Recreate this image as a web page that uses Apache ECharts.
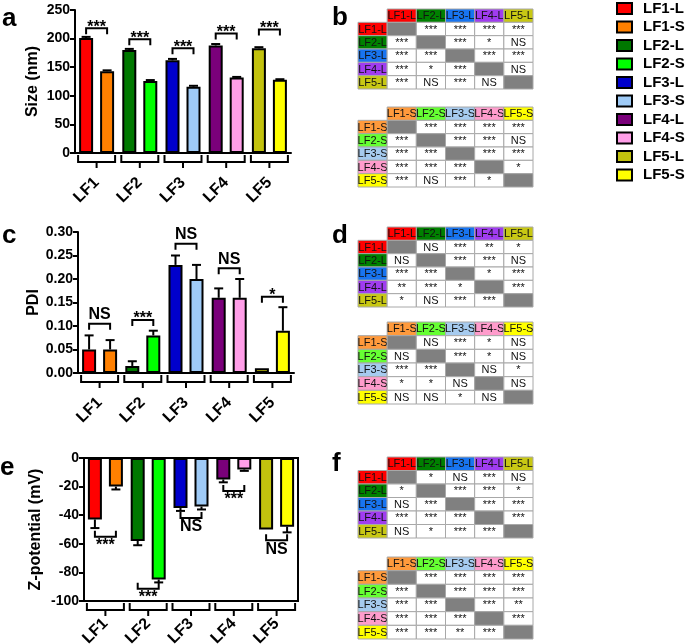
<!DOCTYPE html>
<html><head><meta charset="utf-8">
<script src="https://cdn.jsdelivr.net/npm/echarts@6/dist/echarts.min.js"></script>
<style>html,body{margin:0;padding:0;background:#fff}#c{width:685px;height:644px}</style>
</head><body><div id="c"></div>
<script>
// ---------- data ----------
const groups = ['LF1','LF2','LF3','LF4','LF5'];
const namesL = ['LF1-L','LF2-L','LF3-L','LF4-L','LF5-L'];
const namesS = ['LF1-S','LF2-S','LF3-S','LF4-S','LF5-S'];
const colorsL = ['#ff0000','#007800','#0000cc','#7a007a','#c2c20e'];
const colorsS = ['#ff8000','#00ff00','#9fcbf7','#ff9ee8','#ffff00'];
const tableColorsL = ['#ff0000','#008000','#1874f0','#a03cf0','#c8c814'];
const tableColorsS = ['#ff9a3c','#66ff33','#a6cbef','#ff9ccc','#ffff00'];

// panel a: size (nm)
const sizeL = [201,180,162,188,183];
const sizeLErr = [2,2,2.5,2.5,2];
const sizeS = [143,126,116,132,128];
const sizeSErr = [1.5,1.5,1.5,1,1];
const sizeSig = ['***','***','***','***','***'];
const sizeSigY = [218,199,183,209,216];

// panel c: PDI
const pdiL = [0.05,0.015,0.23,0.16,0.01];
const pdiLErr = [0.03,0.01,0.02,0.02,0];
const pdiS = [0.05,0.08,0.20,0.16,0.09];
const pdiSErr = [0.02,0.01,0.03,0.04,0.05];
const pdiSig = ['NS','***','NS','NS','*'];
const pdiSigY = [0.105,0.113,0.275,0.223,0.162];

// panel e: Z-potential (mV)
const zetaL = [-43,-58,-35,-15,-50];
const zetaLErr = [6,3,2,2,0];
const zetaS = [-20,-85,-34,-8,-48];
const zetaSErr = [2,2,2,1,4];
const zetaSig = ['***','***','NS','***','NS'];
const zetaSigY = [-55,-91.5,-42,-23,-57.5];

// significance tables
const tableB_L = [
 ['','***','***','***','***'],
 ['***','','***','*','NS'],
 ['***','***','','***','***'],
 ['***','*','***','','NS'],
 ['***','NS','***','NS','']
];
const tableB_S = [
 ['','***','***','***','***'],
 ['***','','***','***','NS'],
 ['***','***','','***','***'],
 ['***','***','***','','*'],
 ['***','NS','***','*','']
];
const tableD_L = [
 ['','NS','***','**','*'],
 ['NS','','***','***','NS'],
 ['***','***','','*','***'],
 ['**','***','*','','***'],
 ['*','NS','***','***','']
];
const tableD_S = [
 ['','NS','***','*','NS'],
 ['NS','','***','*','NS'],
 ['***','***','','NS','*'],
 ['*','*','NS','','NS'],
 ['NS','NS','*','NS','']
];
const tableF_L = [
 ['','*','NS','***','NS'],
 ['*','','***','***','*'],
 ['NS','***','','***','***'],
 ['***','***','***','','***'],
 ['NS','*','***','***','']
];
const tableF_S = [
 ['','***','***','***','***'],
 ['***','','***','***','***'],
 ['***','***','','***','**'],
 ['***','***','***','','***'],
 ['***','***','**','***','']
];

// ---------- layout / style ----------
const FONT = '"Liberation Sans", Arial, sans-serif';
const TFONT = '"Liberation Sans Narrow", "Liberation Sans", Arial, sans-serif';
const BAR_W = 14, BAR_GAP = 0.5;
const OFF = BAR_W * (1 + BAR_GAP) / 2;

const panels = [
  {grid:{left:75, top:10, width:216, height:143}, min:0, max:250, interval:50, name:'Size (nm)', nameGap:34, fmt:v=>String(v), margin:27,
   L:sizeL, LE:sizeLErr, S:sizeS, SE:sizeSErr, sig:sizeSig, sigY:sizeSigY, base:0, above:true, box:false},
  {grid:{left:78, top:232, width:216, height:141}, min:0, max:0.3, interval:0.05, name:'PDI', nameGap:35, fmt:v=>v.toFixed(2), margin:27,
   L:pdiL, LE:pdiLErr, S:pdiS, SE:pdiSErr, sig:pdiSig, sigY:pdiSigY, base:0, above:true, box:false},
  {grid:{left:84, top:458, width:214, height:143}, min:-100, max:0, interval:20, name:'Z-potential (mV)', nameGap:40, fmt:v=>String(v), margin:20,
   L:zetaL, LE:zetaLErr, S:zetaS, SE:zetaSErr, sig:zetaSig, sigY:zetaSigY, base:-100, above:false, box:true}
];

const tables = [
  {rows:tableB_L, names:namesL, colors:tableColorsL, top:9, height:80},
  {rows:tableB_S, names:namesS, colors:tableColorsS, top:107, height:80},
  {rows:tableD_L, names:namesL, colors:tableColorsL, top:227, height:80},
  {rows:tableD_S, names:namesS, colors:tableColorsS, top:322, height:82},
  {rows:tableF_L, names:namesL, colors:tableColorsL, top:457, height:81},
  {rows:tableF_S, names:namesS, colors:tableColorsS, top:557, height:82}
];

function errItem(side){
  return function(params, api){
    const c = api.value(0), v = api.value(1), e = api.value(2);
    if (!e) return null;
    const dir = v < 0 ? -1 : 1;
    const p0 = api.coord([c, v]), p1 = api.coord([c, v + dir * e]);
    const x = p0[0] + side * OFF;
    return {type:'group', children:[
      {type:'line', shape:{x1:x, y1:p0[1], x2:x, y2:p1[1]}, style:{stroke:'#000', lineWidth:2}},
      {type:'line', shape:{x1:x-4.5, y1:p1[1], x2:x+4.5, y2:p1[1]}, style:{stroke:'#000', lineWidth:2}}
    ]};
  };
}
function sigItem(labels, above){
  return function(params, api){
    const p = api.coord([api.value(0), api.value(1)]);
    const xl = p[0] - OFF, xr = p[0] + OFF;
    const d = above ? 6 : -6;
    const lab = labels[params.dataIndex];
    const star = lab.indexOf('*') >= 0;
    let ty, va;
    if (above) { ty = p[1] - 1 + (star ? 8 : 0); va = 'bottom'; }
    else { ty = p[1] + 1; va = 'top'; }
    return {type:'group', children:[
      {type:'polyline', shape:{points:[[xl, p[1]+d],[xl, p[1]],[xr, p[1]],[xr, p[1]+d]]}, style:{stroke:'#000', lineWidth:2, fill:null}},
      {type:'text', style:{text:lab, x:p[0], y:ty, align:'center', verticalAlign:va, font:'bold 16px ' + FONT, fill:'#000'}}
    ]};
  };
}
function catBracketItem(params, api){
  const p = api.coord([api.value(0), api.value(1)]);
  const hw = OFF + BAR_W / 2 + 1;
  const y = p[1];
  return {type:'group', children:[
    {type:'polyline', shape:{points:[[p[0]-hw, y+2],[p[0]-hw, y+9],[p[0]+hw, y+9],[p[0]+hw, y+2]]}, style:{stroke:'#000', lineWidth:2, fill:null}},
    {type:'line', shape:{x1:p[0], y1:y+9, x2:p[0], y2:y+15}, style:{stroke:'#000', lineWidth:2}}
  ]};
}
function cellItem(cells){
  return function(params, api){
    const cell = cells[params.dataIndex];
    const p = api.coord([api.value(0), api.value(1)]);
    const s = api.size([1, 1]);
    return {type:'group', children:[
      {type:'rect', shape:{x:p[0]-s[0]/2, y:p[1]-s[1]/2, width:s[0], height:s[1]},
        style:{fill:cell.color, stroke:cell.border, lineWidth:1}},
      {type:'text', style:{text:cell.text, x:p[0], y:p[1]+0.5, align:'center', verticalAlign:'middle',
        font:'11px ' + TFONT, fill:'#111'}}
    ]};
  };
}

const grids = [], xAxes = [], yAxes = [], series = [];

panels.forEach((pn, k) => {
  grids.push(Object.assign({show:pn.box, borderColor:'#000', borderWidth:pn.box ? 2 : 0, outerBoundsMode:'none'}, pn.grid));
  xAxes.push({type:'category', gridIndex:k, data:groups, position:'bottom',
    axisLine:{show:true, onZero:!pn.box, lineStyle:{color:'#000', width:2}},
    axisTick:{show:false}, splitLine:{show:false},
    axisLabel:{rotate:45, margin:pn.margin, color:'#000', fontWeight:'bold', fontSize:16, fontFamily:FONT}});
  yAxes.push({type:'value', gridIndex:k, min:pn.min, max:pn.max, interval:pn.interval,
    name:pn.name, nameLocation:'middle', nameGap:pn.nameGap, nameRotate:90,
    nameTextStyle:{color:'#000', fontWeight:'bold', fontSize:16, fontFamily:FONT},
    axisLine:{show:true, lineStyle:{color:'#000', width:2}},
    axisTick:{show:true, length:5, lineStyle:{color:'#000', width:2}},
    splitLine:{show:false},
    axisLabel:{color:'#000', fontWeight:'bold', fontSize:14, fontFamily:FONT, margin:5, formatter:pn.fmt}});
  [[namesL, colorsL, pn.L, 'L'], [namesS, colorsS, pn.S, 'S']].forEach(([nms, cols, vals, st]) => {
    nms.forEach((nm, i) => {
      series.push({type:'bar', name:nm, xAxisIndex:k, yAxisIndex:k, stack:st + k,
        barWidth:BAR_W, barGap:(BAR_GAP*100)+'%', silent:true,
        itemStyle:{color:cols[i], borderColor:'#000', borderWidth:2},
        data: vals.map((v, j) => j === i ? v : '-')});
    });
  });
  series.push({type:'custom', xAxisIndex:k, yAxisIndex:k, clip:false, silent:true, z:5,
    renderItem:errItem(-1), data:groups.map((g, i) => [i, pn.L[i], pn.LE[i]])});
  series.push({type:'custom', xAxisIndex:k, yAxisIndex:k, clip:false, silent:true, z:5,
    renderItem:errItem(1), data:groups.map((g, i) => [i, pn.S[i], pn.SE[i]])});
  series.push({type:'custom', xAxisIndex:k, yAxisIndex:k, clip:false, silent:true, z:5,
    renderItem:sigItem(pn.sig, pn.above), data:groups.map((g, i) => [i, pn.sigY[i]])});
  series.push({type:'custom', xAxisIndex:k, yAxisIndex:k, clip:false, silent:true, z:5,
    renderItem:catBracketItem, data:groups.map((g, i) => [i, pn.base])});
});

tables.forEach((tb, t) => {
  const k = panels.length + t;
  grids.push({left:358, top:tb.top, width:175, height:tb.height, outerBoundsMode:'none'});
  const cols = [''].concat(tb.names);
  xAxes.push({type:'category', gridIndex:k, data:cols, show:false});
  yAxes.push({type:'category', gridIndex:k, data:cols, show:false, inverse:true});
  const cells = [];
  cells.push({c:0, r:0, text:'', color:'#ffffff', border:'#ffffff'});
  tb.names.forEach((nm, i) => {
    cells.push({c:i+1, r:0, text:nm, color:tb.colors[i], border:'#a8a8a8'});
    cells.push({c:0, r:i+1, text:nm, color:tb.colors[i], border:'#a8a8a8'});
  });
  tb.rows.forEach((row, r) => row.forEach((txt, c) => {
    cells.push({c:c+1, r:r+1, text:txt, color: r === c ? '#808080' : '#ffffff', border:'#a8a8a8'});
  }));
  series.push({type:'custom', name:'table' + t, xAxisIndex:k, yAxisIndex:k, silent:true, clip:false,
    renderItem:cellItem(cells), data:cells.map(cl => [cl.c, cl.r])});
});

const legendNames = [];
namesL.forEach((n, i) => { legendNames.push(n); legendNames.push(namesS[i]); });

const letters = [['a',2,19],['b',332,18],['c',2,236],['d',332,236],['e',0,468],['f',332,464]];

const option = {
  animation:false,
  textStyle:{fontFamily:FONT},
  grid:grids, xAxis:xAxes, yAxis:yAxes, series:series,
  legend:{data:legendNames, orient:'vertical', left:616, top:1, padding:0, itemWidth:15, itemHeight:11, itemGap:3.5,
    icon:'rect', selectedMode:false,
    textStyle:{color:'#000', fontWeight:'bold', fontSize:15, fontFamily:FONT, lineHeight:14, padding:[0,0,0,6]}},
  graphic: letters.map(([t, x, y]) => ({type:'text', x:x, y:y, silent:true,
    style:{text:t, font:'bold 26px ' + FONT, fill:'#000', verticalAlign:'middle'}}))
};

const chart = echarts.init(document.getElementById('c'), null, {renderer:'canvas'});
chart.setOption(option);
</script>
</body></html>
